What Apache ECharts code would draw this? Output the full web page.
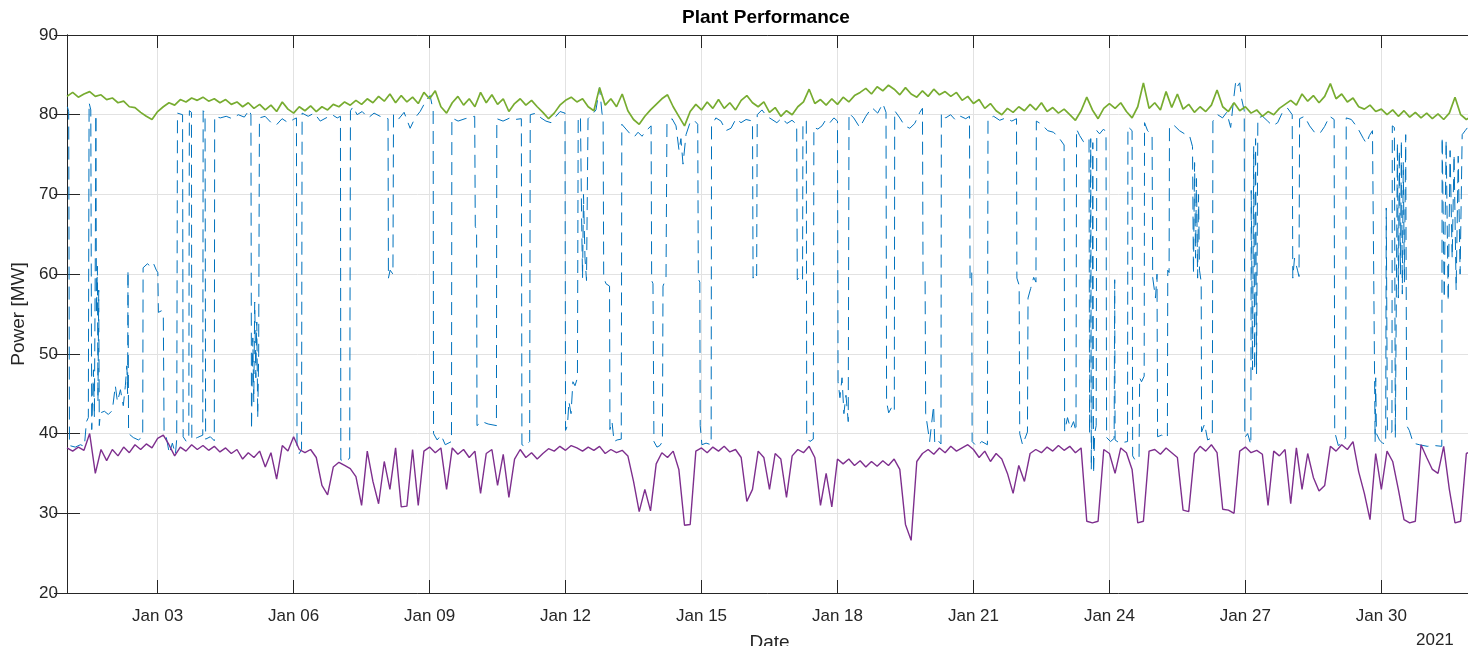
<!DOCTYPE html>
<html><head><meta charset="utf-8">
<script src="https://cdn.jsdelivr.net/npm/echarts@6/dist/echarts.min.js"></script>
<style>html,body{margin:0;padding:0;background:#fff}#c{width:1468px;height:646px}</style>
</head><body><div id="c"></div>
<script>
// ---- data ----
// x values are hours since 2021-01-01 00:00; the axis spans Jan 01 .. Feb 01
const totalHours = 744;
const stepHours = 3; // green & purple sampled every 3 hours from Jan 01 00:00
const tickDays = [3, 6, 9, 12, 15, 18, 21, 24, 27, 30];
const yTicks = [20, 30, 40, 50, 60, 70, 80, 90];

const greenValues = [
82.3,82.8,82.2,82.6,82.9,82.3,82.5,81.9,
82.1,81.5,81.7,81.0,80.9,80.3,79.8,79.4,
80.4,81.0,81.5,81.2,81.9,81.6,82.1,81.8,
82.2,81.7,82.0,81.5,81.9,81.3,81.6,81.0,
81.5,80.8,81.3,80.6,81.2,80.4,81.6,80.7,
80.2,81.0,80.5,81.1,80.4,81.0,80.6,81.3,
81.0,81.6,81.2,81.8,81.3,82.0,81.5,82.3,
81.7,82.6,81.5,82.4,81.6,82.2,81.4,82.8,
82.0,83.0,81.0,80.2,81.5,82.3,81.2,82.0,
81.0,82.8,81.5,82.5,81.3,82.0,80.4,81.4,
82.0,81.2,81.8,81.0,80.3,79.5,80.2,81.2,
81.8,82.2,81.6,82.0,81.0,80.5,83.4,81.2,
82.0,81.0,82.6,80.5,79.4,78.8,79.8,80.6,
81.3,82.0,82.5,81.0,79.8,78.6,80.4,81.3,
80.6,81.6,80.8,81.9,80.8,81.5,80.6,81.8,
82.4,81.5,81.0,81.6,80.3,80.9,79.8,80.5,
80.0,81.0,81.6,83.2,81.4,81.9,81.2,82.0,
81.3,82.2,81.6,82.4,82.8,83.3,82.6,83.5,
83.0,83.7,83.2,82.5,83.4,82.6,82.2,83.0,
82.3,83.2,82.5,82.9,82.3,82.8,81.8,82.3,
81.4,81.9,80.8,81.4,80.5,80.0,80.8,80.3,
81.0,80.5,81.3,80.6,81.5,80.4,80.9,80.2,
80.7,80.0,79.3,80.5,82.2,80.6,79.5,80.8,
81.4,80.8,81.5,80.4,79.6,81.0,84.0,80.8,
81.5,80.6,82.9,80.9,82.6,80.7,81.3,80.3,
81.0,80.4,81.2,83.1,81.0,80.4,81.5,80.5,
81.0,80.2,80.6,79.8,80.4,80.0,80.8,81.3,
81.8,81.2,82.6,81.7,82.4,81.5,82.3,83.9,
82.0,82.6,81.6,82.1,81.0,80.7,81.2,80.4,
80.7,80.0,80.6,79.8,80.5,79.7,80.3,79.6,
80.2,79.5,80.1,79.4,80.2,82.2,80.0,79.4,79.8
];

const purpleValues = [
38.2,37.8,38.3,37.9,40.0,35.0,38.0,36.6,
38.0,37.2,38.3,37.6,38.6,38.0,38.7,38.2,
39.4,39.8,38.6,37.2,38.3,37.8,38.6,38.0,
38.5,37.9,38.4,37.7,38.2,37.5,38.0,36.8,
37.6,37.0,37.8,35.8,37.6,34.3,38.5,37.8,
39.6,38.0,37.6,38.0,37.0,33.5,32.3,35.8,
36.4,36.0,35.6,34.6,31.0,37.8,34.0,31.2,
36.5,33.0,38.2,30.8,30.9,38.0,31.0,37.8,
38.3,37.6,38.2,33.0,38.2,37.4,38.0,37.0,
37.8,32.5,37.5,38.0,33.5,37.4,32.0,36.8,
38.0,37.0,37.6,36.8,37.5,38.1,37.8,38.4,
37.9,38.5,38.2,37.8,38.3,37.9,38.4,37.5,
38.0,37.6,37.9,37.2,34.0,30.2,33.0,30.3,
36.2,37.6,37.0,37.8,35.5,28.5,28.6,37.8,
38.2,37.6,38.3,37.8,38.4,37.7,38.0,37.0,
31.5,33.0,37.8,37.0,33.0,37.5,36.8,32.0,
37.2,38.0,37.6,38.4,37.0,31.0,35.0,30.8,
36.8,36.2,36.8,36.0,36.6,35.8,36.5,35.9,
36.6,36.0,36.8,35.5,28.6,26.6,36.5,37.5,
38.0,37.4,38.2,37.6,38.4,37.8,38.2,38.6,
38.0,37.0,37.8,36.5,37.5,36.8,35.0,32.5,
36.0,34.0,37.5,38.0,37.6,38.3,37.8,38.5,
37.9,38.4,37.6,38.2,29.0,28.8,29.0,38.0,
37.5,35.0,38.2,37.6,35.5,28.8,29.0,37.8,
38.0,37.4,38.2,37.6,37.0,30.4,30.2,37.5,
38.4,37.8,38.6,37.6,30.5,30.4,30.0,37.8,
38.3,37.6,37.9,37.4,31.0,37.8,37.2,38.0,
31.2,38.2,33.0,37.5,34.5,32.8,33.5,38.4,
37.8,38.6,38.0,39.0,35.2,32.5,29.2,37.5,
33.0,37.8,36.5,33.0,29.2,28.8,29.0,38.6,
37.0,35.5,35.0,38.4,33.0,28.8,29.0,37.5,37.8
];

// blue: [hours since Jan 01 00:00, MW]
const blueReadings = [
[0.2,81.0],[0.9,80.4],[1.3,38.5],[4.4,38.3],[7.1,38.6],[9.2,38.4],[10.3,41.5],[11.3,42.0],[11.7,81.5],[12.6,80.6],
[13.1,40.5],[14.0,48],[14.5,42],[15.0,63],[15.3,80],[15.6,55],[16.1,61],[16.4,44],[16.8,58],[17.1,41],
[17.7,42.6],[19.8,42.8],[21.9,42.4],[24.0,42.9],[25.6,46],[26.7,44],[28.3,45.5],[29.8,43.5],[30.9,46],[31.7,48.5],
[32.1,45],[32.3,60.5],[32.6,40],[35.1,39.5],[37.8,39.2],[40.1,39.6],[40.3,60.8],[42.6,61.3],[44.1,61.0],[45.7,61.4],
[47.3,60.5],[48.1,60.2],[48.4,55.2],[50.0,55.4],[51.0,55.0],[51.4,40.2],[52.6,39.5],[54.2,37.5],[55.8,38.8],[57.4,37.4],
[58.1,39.3],[58.5,80.2],[61.2,80.0],[61.5,39.6],[63.2,39.0],[64.5,39.4],[64.8,80.5],[65.9,80.3],[66.1,39.2],[69.0,39.5],
[71.9,39.8],[72.1,80.5],[73.1,80.2],[73.4,39.3],[75.9,39.6],[78.0,39.1],[78.2,79.8],[81.2,79.6],[84.3,79.8],[87.5,79.5],
[90.7,80.0],[93.9,79.7],[96.5,80.6],[97.4,80.0],[97.7,40.5],[98.4,52],[98.9,44],[99.4,56.5],[100.0,47],[100.5,54],
[101.0,42],[101.5,50],[101.9,79.6],[104.9,79.8],[108.1,79.0],[110.8,78.7],[113.9,79.5],[117.1,79.0],[119.8,79.4],[121.5,79.6],
[121.8,38.5],[123.0,37.5],[124.2,38.0],[124.5,80.2],[127.7,79.8],[130.9,80.2],[134.1,79.2],[137.2,79.6],[140.4,80.0],[143.1,79.6],
[144.8,79.8],[145.0,36.7],[147.3,36.5],[149.7,36.9],[150.1,80.5],[151.5,81.0],[153.6,80.0],[156.3,80.4],[159.5,79.6],[162.6,80.2],
[165.8,79.8],[170.0,79.5],[170.2,59.5],[171.1,60.5],[172.6,60.0],[172.9,80.0],[175.4,79.4],[178.5,80.3],[181.7,78.3],[184.3,79.6],
[187.0,80.4],[190.2,81.8],[192.3,82.4],[193.9,80.5],[194.1,40.0],[196.0,39.2],[198.1,39.8],[200.3,38.6],[203.6,39.0],[203.8,79.6],
[207.1,79.2],[210.8,79.5],[215.9,79.8],[216.2,66.0],[216.9,65.5],[217.1,41.0],[219.8,41.5],[223.0,41.2],[227.4,41.0],[227.6,79.5],
[230.9,79.2],[234.6,79.6],[237.3,79.4],[240.6,79.5],[240.9,38.6],[242.5,38.4],[245.0,39.0],[245.3,80.0],[248.4,80.2],[251.0,79.6],
[253.6,79.2],[256.3,79.0],[258.9,79.8],[261.1,80.4],[263.7,80.2],[264.0,40.4],[265.0,41],[265.8,44],[266.9,42.5],[267.9,46.5],
[269.0,46.0],[270.3,47.0],[270.7,79.8],[271.9,79.6],[272.5,67],[273.0,59.5],[273.5,70],[274.3,62],[275.1,59.2],[275.9,79.5],
[278.0,80.0],[280.1,80.6],[282.0,83.4],[283.3,80.2],[283.9,79.5],[284.2,59.6],[285.4,58.8],[287.3,58.5],[287.5,40.5],[288.6,41.5],
[289.7,39.0],[291.3,39.2],[293.5,39.3],[293.8,78.8],[296.0,78.2],[298.2,77.6],[300.3,77.2],[302.4,77.8],[304.5,77.3],[306.7,78.0],
[309.3,78.6],[309.6,59.2],[310.3,58.8],[310.8,39.0],[312.4,38.3],[314.0,38.5],[315.3,39.0],[315.6,58.5],[317.2,59.5],[317.7,79.0],
[320.4,79.5],[322.5,78.6],[324.1,75.5],[325.1,77.0],[326.2,73.8],[327.8,77.5],[329.9,79.0],[332.1,79.3],[334.0,78.8],[334.3,59.4],
[335.1,59.0],[335.3,41.0],[336.2,38.6],[338.4,38.8],[341.1,38.6],[341.3,78.6],[343.6,79.6],[346.3,79.2],[348.9,78.0],[351.6,78.3],
[354.3,79.5],[356.9,79.0],[359.6,79.4],[363.0,79.2],[363.3,59.5],[364.3,60.2],[365.2,59.8],[365.5,80.0],[368.0,80.6],[370.6,79.8],
[373.3,79.4],[375.9,79.0],[378.6,79.6],[381.2,78.9],[383.9,79.3],[386.4,78.8],[386.7,59.3],[388.1,59.6],[389.5,59.2],[389.7,79.0],
[391.5,79.2],[391.7,39.5],[393.4,39.0],[395.2,39.3],[395.5,78.4],[397.6,78.2],[399.8,78.6],[401.9,79.4],[404.0,79.0],[406.1,79.6],
[408.0,79.2],[408.3,46.5],[409.3,44.5],[410.4,47.0],[411.4,42.5],[412.5,44.8],[413.7,41.5],[414.1,80.2],[416.6,79.6],[419.8,78.4],
[423.0,79.8],[426.2,80.9],[429.3,80.2],[432.0,81.4],[433.7,80.3],[434.0,44.0],[435.1,42.6],[436.7,43.3],[438.1,42.8],[438.3,80.5],
[441.0,79.6],[443.6,78.6],[446.3,78.3],[448.9,78.9],[451.6,80.3],[453.0,80.8],[453.3,59.8],[454.4,59.2],[454.7,42.5],[456.8,39.0],
[458.9,43.5],[459.5,38.8],[461.0,39.2],[462.8,38.7],[463.0,80.2],[465.3,79.6],[467.9,80.0],[470.6,79.3],[473.2,79.8],[475.9,79.5],
[477.9,79.8],[478.2,59.5],[479.1,60.3],[479.3,39.0],[481.7,38.4],[484.4,39.0],[487.4,38.6],[487.7,79.5],[490.7,79.8],[493.9,79.3],
[497.1,79.6],[500.3,79.2],[502.8,79.5],[503.0,59.5],[504.2,58.6],[504.5,40.0],[506.0,38.6],[508.6,40.2],[508.9,57.0],[510.3,58.2],
[511.9,59.6],[513.1,59.0],[513.3,79.2],[516.1,78.8],[519.3,78.0],[522.4,77.8],[525.6,77.0],[528.0,76.2],[528.3,40.3],[529.8,42.0],
[531.4,40.6],[533.0,41.5],[534.3,40.3],[534.6,78.2],[536.2,77.4],[538.3,76.6],[541.2,77.0],[541.5,40],[542.1,77],[542.4,35.5],
[542.8,43],[543.2,76.5],[543.6,35],[544.2,40],[545.0,41],[545.3,78.0],[546.8,77.6],[548.9,78.2],[550.2,77.8],[550.5,39.5],
[552.6,39.0],[554.5,39.4],[554.8,59.3],[555.0,39.2],[557.4,38.8],[561.6,39.0],[561.8,78.5],[564.0,78.0],[564.3,37.2],[565.8,36.6],
[567.7,37.0],[568.0,47.0],[569.0,46.5],[570.4,47.2],[570.6,79.0],[572.2,78.0],[574.6,77.5],[574.9,59.6],[576.4,57.0],[577.2,60],
[577.5,39.6],[579.6,39.8],[582.7,39.5],[582.9,60.5],[583.6,60.2],[583.8,78.6],[586.5,78.6],[589.1,78.0],[591.8,77.6],[594.4,77.4],
[596.0,76.0],[596.5,60],[597.1,74],[597.6,62],[598.1,72],[598.7,59.5],[599.2,70],[599.7,60.5],[600.6,59.0],[600.8,40.2],
[602.4,41.2],[604.0,39.2],[606.5,39.5],[606.8,79.2],[609.3,80.0],[611.9,79.6],[614.1,80.3],[616.2,78.4],[617.8,82],[618.9,84.2],
[619.9,83.6],[621.0,84.0],[622.0,82.0],[623.4,80.5],[623.7,39.5],[625.2,40.0],[626.9,38.6],[627.1,70.5],[627.8,48],[628.4,76],
[628.9,48],[629.4,77],[629.9,47.5],[630.6,79.6],[633.1,79.8],[635.8,79.2],[638.4,78.6],[641.1,79.0],[643.8,80.4],[646.4,80.8],
[648.8,80.0],[649.1,59.5],[650.0,62],[651.6,60.5],[652.4,59.7],[652.7,79.5],[655.3,79.8],[658.0,78.6],[660.6,77.8],[663.3,77.6],
[665.9,78.5],[668.6,79.8],[671.0,79.4],[671.3,40.2],[673.2,38.5],[675.4,38.8],[677.1,39.5],[677.4,79.6],[680.1,79.4],[683.3,78.4],
[686.5,77.0],[688.1,76.4],[689.7,77.4],[691.3,78.0],[692.1,77.8],[692.4,47.5],[692.7,39.0],[693.0,47.0],[693.4,40],[695.0,39.2],
[696.6,38.8],[698.3,38.7],[698.6,68.3],[699.2,40.0],[701.6,40.2],[701.8,78.6],[702.9,78.4],[703.4,39.5],[704.5,76.5],[705.0,57],
[705.5,75.5],[706.1,60],[706.6,76.8],[707.1,57.5],[707.6,74],[708.2,59],[708.9,77.5],[709.4,41],[710.8,40.4],[712.9,38.8],
[716.1,38.6],[720.3,38.4],[724.0,38.5],[728.0,38.4],[728.2,77.2],[729.3,57],[730.3,76.8],[731.4,56.6],[732.4,75.5],[733.5,62],
[734.5,75],[735.6,58],[736.7,74.8],[737.7,60],[738.8,77.5],[740.4,78.0],[743.6,79.0]
];

const titleText = 'Plant Performance';
const xAxisName = 'Date';
const yAxisName = 'Power [MW]';
const yearText = '2021';

// ---- build chart ----
const greenData = greenValues.map((v, i) => [i * stepHours, v]);
const purpleData = purpleValues.map((v, i) => [i * stepHours, v]);
const blueData = blueReadings.map(p => [p[0], p[1]]);
const tickHours = tickDays.map(d => (d - 1) * 24);

const font = '"Liberation Sans", Arial, Helvetica, sans-serif';
const axisColor = '#262626';
const gridColor = '#e2e2e2';
const fmt = v => 'Jan ' + String(Math.round(v / 24) + 1).padStart(2, '0');

const chart = echarts.init(document.getElementById('c'), null, { renderer: 'canvas' });
chart.setOption({
  animation: false,
  backgroundColor: '#ffffff',
  textStyle: { fontFamily: font },
  grid: { left: 67, top: 35, right: -4, bottom: 53, containLabel: false, outerBoundsMode: 'none' },
  xAxis: [{
    type: 'value', min: 0, max: totalHours, position: 'bottom',
    name: xAxisName, nameLocation: 'middle', nameGap: 40,
    nameTextStyle: { fontSize: 19, color: axisColor, fontFamily: font },
    axisLine: { show: true, lineStyle: { color: axisColor, width: 1 } },
    axisTick: { show: true, inside: true, length: 13, customValues: tickHours, lineStyle: { color: axisColor } },
    axisLabel: { show: true, customValues: tickHours, formatter: fmt, fontSize: 17, color: axisColor, margin: 15, fontFamily: font },
    splitLine: { show: true, lineStyle: { color: gridColor, width: 1 } }
  }, {
    type: 'value', min: 0, max: totalHours, position: 'top',
    axisLine: { show: true, lineStyle: { color: axisColor, width: 1 } },
    axisTick: { show: true, inside: true, length: 13, customValues: tickHours, lineStyle: { color: axisColor } },
    axisLabel: { show: false, customValues: tickHours },
    splitLine: { show: false }
  }],
  yAxis: [{
    type: 'value', min: yTicks[0], max: yTicks[yTicks.length - 1], interval: 10, position: 'left',
    name: yAxisName, nameLocation: 'middle', nameGap: 27, nameRotate: 90,
    nameTextStyle: { fontSize: 19, color: axisColor, fontFamily: font },
    axisLine: { show: true, lineStyle: { color: axisColor, width: 1 } },
    axisTick: { show: true, inside: true, length: 13, lineStyle: { color: axisColor } },
    axisLabel: { show: true, fontSize: 17, color: axisColor, margin: 9, fontFamily: font },
    splitLine: { show: true, lineStyle: { color: gridColor, width: 1 } }
  }, {
    type: 'value', min: yTicks[0], max: yTicks[yTicks.length - 1], interval: 10, position: 'right',
    axisLine: { show: true, lineStyle: { color: axisColor, width: 1 } },
    axisTick: { show: true, inside: true, length: 13, lineStyle: { color: axisColor } },
    axisLabel: { show: false },
    splitLine: { show: false }
  }],
  graphic: [
    { type: 'text', left: 682, top: 8, style: { text: titleText, fill: '#000', font: 'bold 19px ' + font } },
    { type: 'text', left: 1416, top: 632, style: { text: yearText, fill: axisColor, font: '17px ' + font } }
  ],
  series: [
    { name: 'Actual', type: 'line', data: blueData, showSymbol: false, symbol: 'none',
      lineStyle: { color: '#0072BD', width: 1, type: [13, 7] }, z: 2 },
    { name: 'Max', type: 'line', data: greenData, showSymbol: false, symbol: 'none',
      lineStyle: { color: '#77AC30', width: 1.7 }, z: 3 },
    { name: 'Min', type: 'line', data: purpleData, showSymbol: false, symbol: 'none',
      lineStyle: { color: '#7E2F8E', width: 1.4 }, z: 4 }
  ]
});
</script>
</body></html>
